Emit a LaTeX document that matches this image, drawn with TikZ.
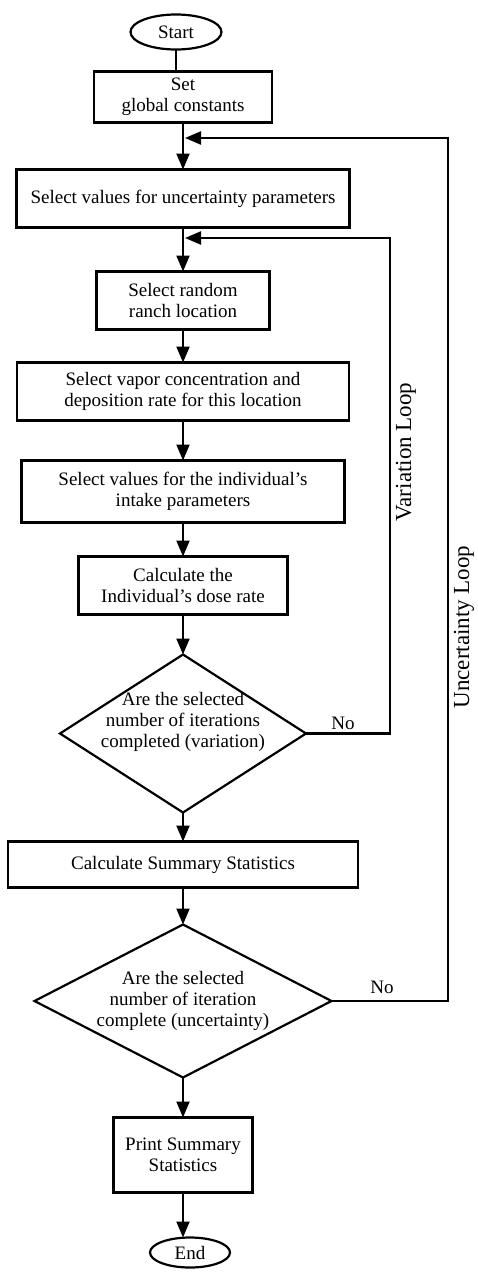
\documentclass[tikz,border=0pt]{standalone}
\usepackage{fontspec}
\setmainfont{Liberation Serif}
\usetikzlibrary{shapes, arrows.meta, positioning}

\begin{document}
\begin{tikzpicture}[x=1pt, y=-1pt, ->, >={Triangle[length=16pt, width=13pt]}, line width=2.2pt, node distance=40pt]
\tikzstyle{every node}=[font=\fontsize{19}{21}\selectfont, outer sep=0pt]
\tikzstyle{term}=[ellipse, draw, inner sep=0pt]
\tikzstyle{block}=[rectangle, draw, align=center, inner sep=0pt]
\tikzstyle{decision}=[diamond, draw, inner sep=0pt]
\tikzstyle{looplabel}=[rotate=90, font=\fontsize{23}{25}\selectfont]
\useasboundingbox (0,0) rectangle (478,1272);
\node[term, minimum width=91pt, minimum height=35pt](n0) at (176,32) {Start};
\node[block, minimum width=178pt, minimum height=51pt](n1)[below=22pt of n0, xshift=7pt] {Set\\global constants};
\node[block, minimum width=333pt, minimum height=58pt](n2)[below=47pt of n1] {Select values for uncertainty parameters};
\node[block, minimum width=173pt, minimum height=58pt](n3)[below=44pt of n2] {Select random\\ranch location};
\node[block, minimum width=332pt, minimum height=58pt](n4)[below=33pt of n3] {Select vapor concentration and\\deposition rate for this location};
\node[block, minimum width=323pt, minimum height=62pt](n5)[below=40pt of n4] {Select values for the individual's\\intake parameters};
\node[block, minimum width=209pt, minimum height=58pt](n6)[below=34pt of n5] {Calculate the\\Individual's dose rate};
\node[decision, minimum width=246pt, minimum height=158pt, label={[align=center, yshift=12pt]center:Are the selected\\number of iterations\\completed (variation)}](n7)[below=40pt of n6] {};
\node[block, minimum width=350pt, minimum height=46pt](n8)[below=29pt of n7] {Calculate Summary Statistics};
\node[decision, minimum width=297pt, minimum height=153pt, label={[align=center]center:Are the selected\\number of iteration\\complete (uncertainty)}](n9)[below=37pt of n8] {};
\node[block, minimum width=139pt, minimum height=75pt](n10)[below=40pt of n9] {Print Summary\\Statistics};
\node[term, minimum width=80pt, minimum height=30pt](n11)[below=45pt of n10, xshift=7pt] {End};
\coordinate (j1) at (185,138);
\coordinate (j2) at (185,238);
\coordinate (v1) at (390,0);
\coordinate (u1) at (448,0);
\draw[-] (n0) -- (n0 |- n1.north);
\draw (n1) -- (n2);
\draw (n2) -- (n3);
\draw (n3) -- (n4);
\draw (n4) -- (n5);
\draw (n5) -- (n6);
\draw (n6) -- (n7);
\draw (n7) -- (n8);
\draw (n8) -- (n9);
\draw (n9) -- (n10);
\draw (n10.south) -- (n10.south |- n11.north);
% loops back
\draw (n7.east) -- (n7.east -| v1) |- (j2);
\draw (n9.east) -- (n9.east -| u1) |- (j1);
\node[anchor=base](no1) at (343,729) {No};
\node[anchor=base](no2) at (382,993) {No};
\node[looplabel](l1) at (406,452) {Variation Loop};
\node[looplabel](l2) at (464,627) {Uncertainty Loop};
\end{tikzpicture}
\end{document}
